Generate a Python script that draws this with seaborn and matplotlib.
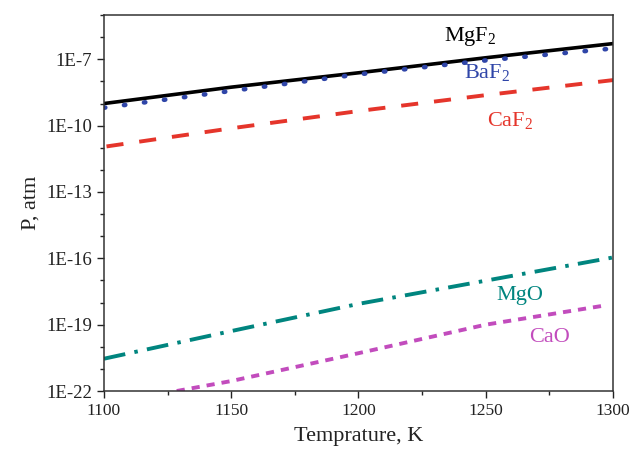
import numpy as np
import pandas as pd
import seaborn as sns
import matplotlib
matplotlib.use("Agg")
import matplotlib.pyplot as plt
from matplotlib.ticker import FixedLocator, FuncFormatter, MultipleLocator

# Temperatures (K) and log10 of vapour pressure (atm)
temps = [1100, 1150, 1200, 1250, 1300]
log_mgf2 = [-9.00, -8.26, -7.61, -6.93, -6.29]
log_baf2 = [-9.19, -8.43, -7.68, -7.05, -6.51]
log_caf2 = [-10.96, -10.12, -9.34, -8.62, -7.94]
log_mgo = [-20.54, -19.29, -18.06, -17.01, -15.96]
temps_cao = [1128.6, 1150, 1200, 1250, 1298]
log_cao = [-22.00, -21.55, -20.29, -19.00, -18.11]

sns.set_theme(style="ticks")
plt.rcParams['font.family'] = ['Liberation Serif', 'DejaVu Serif']
plt.rcParams['mathtext.fontset'] = 'custom'
plt.rcParams['mathtext.rm'] = 'Liberation Serif'

fig = plt.figure(figsize=(6.3, 4.57), dpi=100)
ax = fig.add_axes([0.165, 0.1444, 0.808, 0.8226])

# Plot every compound
sns.lineplot(x=temps, y=10.0 ** np.array(log_mgf2), ax=ax, color='black', linewidth=2.6)
sns.lineplot(x=temps, y=10.0 ** np.array(log_baf2), ax=ax, color='#2f45a8', linewidth=3.3,
             linestyle=(0, (0.3, 4.1)), dash_capstyle='round')
sns.lineplot(x=[1101] + temps[1:], y=10.0 ** np.array([-10.94] + log_caf2[1:]), ax=ax,
             color='#e5352b', linewidth=2.8, linestyle=(0, (4.4, 4.1)), dash_capstyle='butt')
sns.lineplot(x=temps, y=10.0 ** np.array(log_mgo), ax=ax, color='#00857f', linewidth=2.8,
             linestyle=(0, (5.6, 2.4, 0.9, 2.4)), dash_capstyle='butt')
sns.lineplot(x=temps_cao, y=10.0 ** np.array(log_cao), ax=ax, color='#c24cbd', linewidth=2.8,
             linestyle=(0, (2.1, 1.8)), dash_capstyle='butt')

ax.set_yscale('log')
ax.set_xlim(1100, 1300)
ax.set_ylim(1e-22, 1e-5)

# Ticks
ax.yaxis.set_major_locator(FixedLocator([10.0 ** e for e in range(-22, -6, 3)]))
ax.yaxis.set_minor_locator(FixedLocator([10.0 ** e for e in range(-22, -4)]))
ax.yaxis.set_major_formatter(FuncFormatter(lambda v, p: "1E%d" % round(np.log10(v))))
ax.yaxis.set_minor_formatter(FuncFormatter(lambda v, p: ""))
ax.xaxis.set_major_locator(MultipleLocator(50))
ax.xaxis.set_minor_locator(MultipleLocator(25))
ax.tick_params(which='major', direction='out', length=5, width=1, color='#222222', labelcolor='#222222')
ax.tick_params(axis='y', which='major', labelsize=13.5)
ax.tick_params(axis='x', which='major', labelsize=12.5)
ax.tick_params(which='minor', direction='out', length=3, width=1, color='#222222')
for s in ax.spines.values():
    s.set_visible(True)
    s.set_color('#333333')
    s.set_linewidth(1.1)

ax.set_xlabel("Temprature, K", fontsize=16, color='#222222', labelpad=6)
ax.set_ylabel("P, atm", fontsize=16, color='#222222', labelpad=4)

# Series labels
ax.text(1243.8, 10 ** -5.96, "MgF$_2$", color='black', fontsize=16, ha='center', va='center')
ax.text(1250.4, 10 ** -7.62, "BaF$_2$", color='#2f45a8', fontsize=16, ha='center', va='center')
ax.text(1259.5, 10 ** -9.79, "CaF$_2$", color='#e5352b', fontsize=16, ha='center', va='center')
ax.text(1263.5, 10 ** -17.68, "MgO", color='#00857f', fontsize=16, ha='center', va='center')
ax.text(1275.2, 10 ** -19.56, "CaO", color='#c24cbd', fontsize=16, ha='center', va='center')

plt.savefig('out.png', dpi=100)
